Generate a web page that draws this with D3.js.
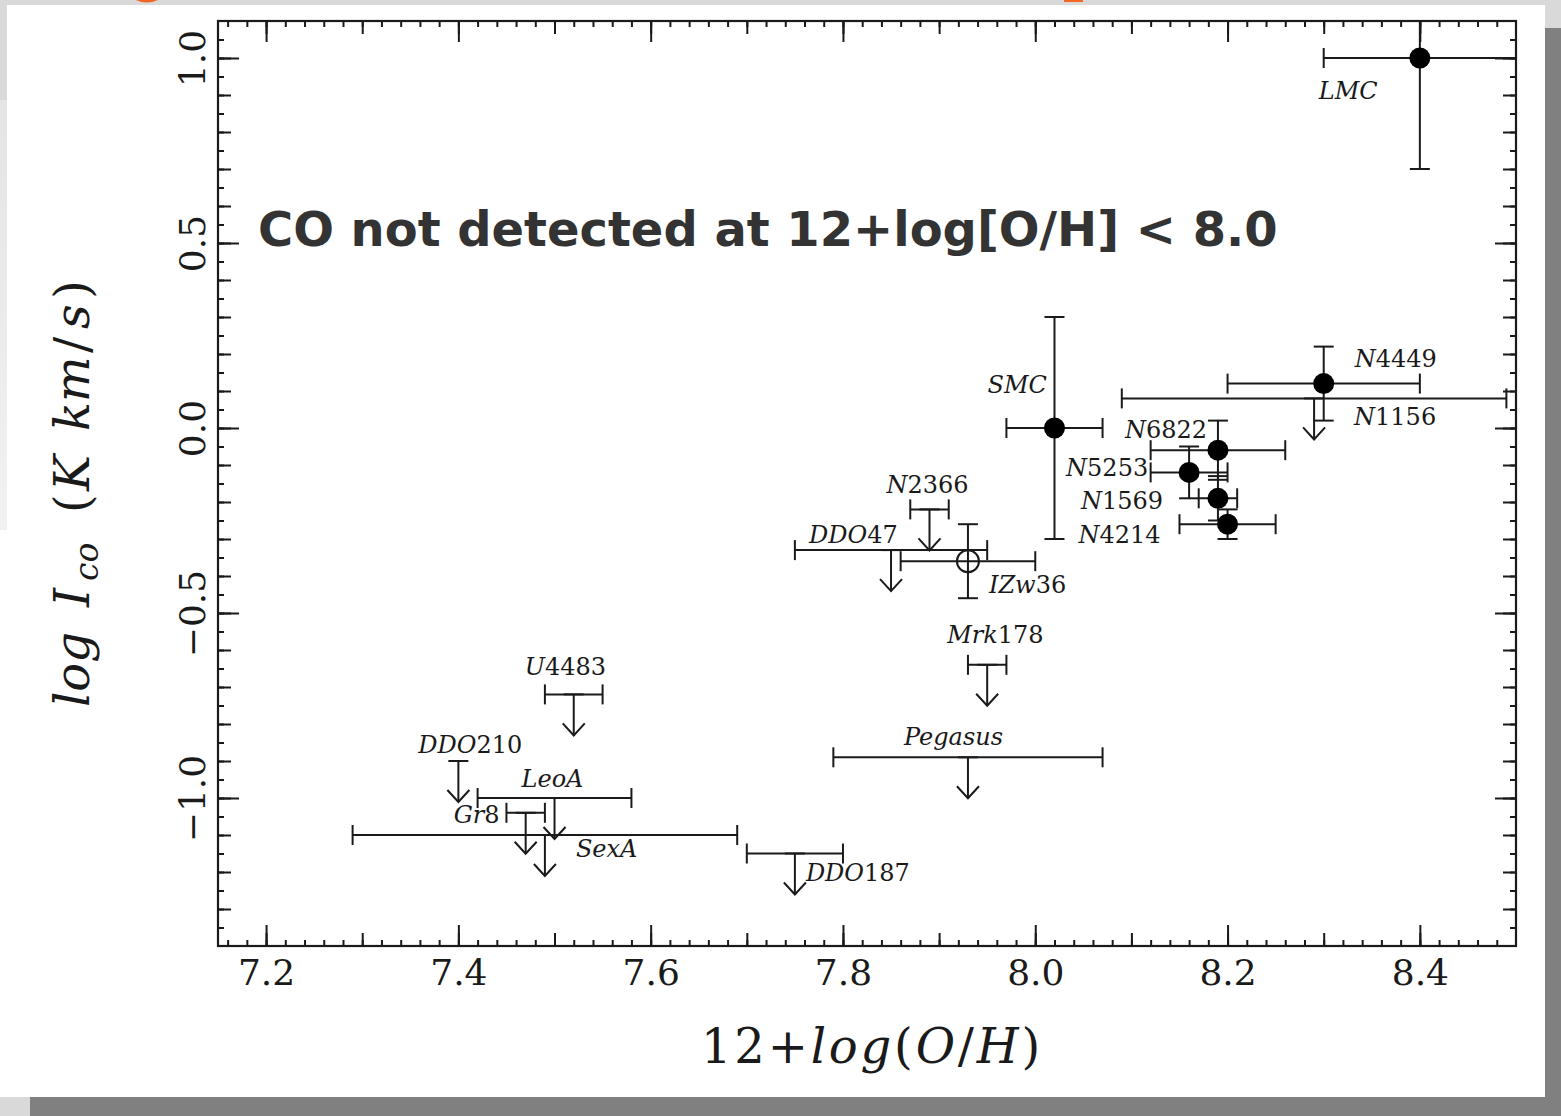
<!DOCTYPE html>
<html><head><meta charset="utf-8">
<script src="https://cdn.jsdelivr.net/npm/d3@7"></script>
<style>body{margin:0;background:#d9d9d9;} svg{display:block}</style>
</head><body><svg id="c" width="1561" height="1116"></svg>
<script>
// ---------------- data ----------------
const galaxies = ["LMC","SMC","N4449","N1156","N6822","N5253","N1569","N4214","N2366","IZw36","DDO47","Mrk178","Pegasus","U4483","DDO210","LeoA","Gr8","SexA","DDO187"];
const oxygenAbundance = [8.40,8.02,8.30,8.29,8.19,8.16,8.19,8.20,7.89,7.93,7.85,7.95,7.93,7.52,7.40,7.50,7.47,7.49,7.75];
const oxygenErr      = [0.10,0.05,0.10,0.20,0.07,0.04,0.02,0.05,0.02,0.07,0.10,0.02,0.14,0.03,0.00,0.08,0.02,0.20,0.05];
const logICO         = [1.00,0.00,0.12,0.08,-0.06,-0.12,-0.19,-0.26,-0.22,-0.36,-0.33,-0.64,-0.89,-0.72,-0.90,-1.00,-1.04,-1.10,-1.15];
const logICOErr      = [0.30,0.30,0.10,0,0.08,0.07,0.06,0.04,0,0.10,0,0,0,0,0,0,0,0,0];
const pointKind      = ["det","det","det","lim","det","det","det","det","lim","open","lim","lim","lim","lim","lim","lim","lim","lim","lim"];
const xTickLabels = ["7.2","7.4","7.6","7.8","8.0","8.2","8.4"];
const yTickLabels = ["\u22121.0","\u22120.5","0.0","0.5","1.0"];
const annotation = "CO not detected at 12+log[O/H] < 8.0";

// ---------------- layout (pixel offsets of the name labels) ----------------
const labelDx = [-101,-67,31,40,-93,-123,-137,-149,-43,21,-82,-40,-64,-49,-40,-33,-72,31,11];
const labelDy = [41,-35,-17,27,-12,4,11,19,-16,32,-7,-22,-12,-19,-8,-11,10,22,27];

const svg = d3.select("#c");
const W = 1561, H = 1116;
const L = 218, R = 1516, T = 21, B = 946;
const INK = "#1a1a1a";
const SERIF = "DejaVu Serif";

// page background / panel
svg.append("rect").attr("width", W).attr("height", H).attr("fill", "#d9d9d9");
const grad = svg.append("defs").append("linearGradient").attr("id","lg").attr("x1",0).attr("x2",0).attr("y1",0).attr("y2",1);
grad.append("stop").attr("offset","0%").attr("stop-color","#e4e4e4");
grad.append("stop").attr("offset","100%").attr("stop-color","#f2f2f2");
svg.append("rect").attr("x",0).attr("y",100).attr("width",8).attr("height",430).attr("fill","url(#lg)");
svg.append("rect").attr("x",0).attr("y",530).attr("width",8).attr("height",567).attr("fill","#ffffff");
svg.append("rect").attr("x", 30).attr("y", 28).attr("width", W - 30).attr("height", H - 28).attr("fill", "#808080");
svg.append("rect").attr("x", 7).attr("y", 5).attr("width", 1538).attr("height", 1092).attr("fill", "#ffffff");
// clipped orange fragments of a title above the frame
svg.append("path").attr("d","M136,0 Q146,5 158,0 Z").attr("fill","#f26522");
svg.append("rect").attr("x",1064).attr("y",0).attr("width",19).attr("height",2).attr("fill","#f26522");

const x = d3.scaleLinear().domain([7.15, 8.5]).range([L, R]);
const y = d3.scaleLinear().domain([-1.4, 1.1]).range([B, T]);

// ---------------- axes (ticks on all four sides, pointing inward) ----------------
const xMinor = d3.range(358, 425).map(i => i / 50);
const xMid = d3.range(72, 85).map(i => i / 10);
const xMajor = d3.range(36, 43).map(i => i / 5);
const yMinor = d3.range(-27, 22).map(i => i / 20);
const yMid = d3.range(-13, 11).map(i => i / 10);
const yMajor = d3.range(-2, 3).map(i => i / 2);

function styleAxis(g) {
  g.select(".domain").remove();
  g.selectAll(".tick line").attr("stroke", INK).attr("stroke-width", 2);
  g.attr("font-family", SERIF).attr("font-size", 36);
}
const levels = [[xMinor, yMinor, 6], [xMid, yMid, 13], [xMajor, yMajor, 21]];
levels.forEach(([xv, yv, len], k) => {
  const last = k === 2;
  svg.append("g").attr("transform", `translate(0,${B})`)
    .call(d3.axisBottom(x).tickValues(xv).tickSize(-len).tickFormat(last ? (d, i) => xTickLabels[i] : ""))
    .call(styleAxis)
    .call(g => g.selectAll("text").attr("y", 39).attr("dy", 0).attr("fill", INK));
  svg.append("g").attr("transform", `translate(0,${T})`)
    .call(d3.axisTop(x).tickValues(xv).tickSize(-len).tickFormat("")).call(styleAxis);
  svg.append("g").attr("transform", `translate(${L},0)`)
    .call(d3.axisLeft(y).tickValues(yv).tickSize(-len).tickFormat(last ? (d, i) => yTickLabels[i] : ""))
    .call(styleAxis)
    .call(g => g.selectAll("text").attr("x", 0).attr("dy", 0).attr("text-anchor", "middle")
      .attr("transform", "translate(-13,0) rotate(-90)").attr("fill", INK));
  svg.append("g").attr("transform", `translate(${R},0)`)
    .call(d3.axisRight(y).tickValues(yv).tickSize(-len).tickFormat("")).call(styleAxis);
});
svg.append("rect").attr("x", L).attr("y", T).attr("width", R - L).attr("height", B - T)
  .attr("fill", "none").attr("stroke", INK).attr("stroke-width", 2.2);

// ---------------- data marks ----------------
svg.append("clipPath").attr("id", "plotclip").append("rect")
  .attr("x", L).attr("y", T).attr("width", R - L).attr("height", B - T);
const gData = svg.append("g").attr("clip-path", "url(#plotclip)")
  .attr("stroke", INK).attr("stroke-width", 2).attr("fill", "none");

const CAP = 10, ARROW = 41, HEAD_W = 11, HEAD_H = 12;
galaxies.forEach((name, i) => {
  const cx = x(oxygenAbundance[i]), cy = y(logICO[i]);
  const g = gData.append("g");
  if (oxygenErr[i] > 0) {
    const x0 = x(oxygenAbundance[i] - oxygenErr[i]), x1 = x(oxygenAbundance[i] + oxygenErr[i]);
    g.append("line").attr("x1", x0).attr("x2", x1).attr("y1", cy).attr("y2", cy);
    [x0, x1].forEach(xx => g.append("line").attr("x1", xx).attr("x2", xx).attr("y1", cy - CAP).attr("y2", cy + CAP));
  }
  if (logICOErr[i] > 0) {
    const y0 = y(logICO[i] - logICOErr[i]), y1 = y(logICO[i] + logICOErr[i]);
    g.append("line").attr("x1", cx).attr("x2", cx).attr("y1", y0).attr("y2", y1);
    [y0, y1].forEach(yy => g.append("line").attr("x1", cx - CAP).attr("x2", cx + CAP).attr("y1", yy).attr("y2", yy));
  }
  if (pointKind[i] === "lim") {
    g.append("line").attr("x1", cx - CAP).attr("x2", cx + CAP).attr("y1", cy).attr("y2", cy);
    g.append("line").attr("x1", cx).attr("x2", cx).attr("y1", cy).attr("y2", cy + ARROW);
    g.append("path").attr("d", `M${cx - HEAD_W},${cy + ARROW - HEAD_H} L${cx},${cy + ARROW} L${cx + HEAD_W},${cy + ARROW - HEAD_H}`);
  } else if (pointKind[i] === "det") {
    g.append("circle").attr("cx", cx).attr("cy", cy).attr("r", 10.5).attr("fill", "#000").attr("stroke", "none");
  } else {
    g.append("circle").attr("cx", cx).attr("cy", cy).attr("r", 11).attr("fill", "none").attr("stroke", INK).attr("stroke-width", 2);
  }
});

// name labels: letters italic, digits upright
const gLab = svg.append("g").attr("font-family", SERIF).attr("font-size", 24).attr("fill", INK);
galaxies.forEach((name, i) => {
  const t = gLab.append("text")
    .attr("x", x(oxygenAbundance[i]) + labelDx[i])
    .attr("y", y(logICO[i]) + labelDy[i]);
  (name.match(/[0-9]+|[^0-9]+/g)).forEach(part => {
    t.append("tspan").attr("font-style", /[0-9]/.test(part) ? "normal" : "italic").text(part);
  });
});

// annotation
const ann = svg.append("text").attr("x", 258).attr("y", 246)
  .attr("font-family", "DejaVu Sans").attr("font-weight", "bold").attr("font-size", 46)
  .attr("fill", "#333333").text(annotation);
const annLen = ann.node().getComputedTextLength();
ann.attr("font-size", 46 * 1020 / annLen);

// x axis title
const xt = svg.append("text").attr("x", 872).attr("y", 1063).attr("text-anchor", "middle")
  .attr("font-family", SERIF).attr("font-size", 48).attr("fill", INK).attr("letter-spacing", 2.8);
[["12+", "normal"], ["log", "italic"], ["(", "normal"], ["O", "italic"], ["/", "normal"], ["H", "italic"], [")", "normal"]]
  .forEach(([s, st]) => xt.append("tspan").attr("font-style", st).text(s));

// y axis title (rotated, pieces placed along the axis)
const yt = svg.append("g").attr("transform", "translate(89,707) rotate(-90)")
  .attr("font-family", SERIF).attr("fill", INK);
[["log", "italic", 0, 0, 48], ["I", "italic", 100, 0, 48], ["co", "italic", 126, 9, 33],
 ["(", "normal", 194, 0, 48], ["K", "italic", 216, 0, 48], ["km", "italic", 276, 0, 48],
 ["/", "normal", 354, 0, 48], ["s", "italic", 378, 0, 48], [")", "normal", 408, 0, 48]]
  .forEach(([s, st, px, py, fs]) => yt.append("text").attr("x", px).attr("y", py)
    .attr("font-size", fs).attr("font-style", st).text(s));
</script></body></html>
